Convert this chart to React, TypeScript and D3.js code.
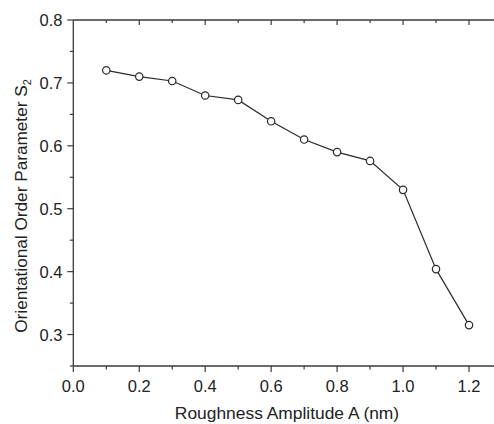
import React from "react";
import * as d3 from "d3";

const amplitudes = [0.1, 0.2, 0.3, 0.4, 0.5, 0.6, 0.7, 0.8, 0.9, 1.0, 1.1, 1.2];
const orderS2 = [0.72, 0.71, 0.703, 0.68, 0.673, 0.639, 0.61, 0.59, 0.576, 0.53, 0.404, 0.315];
const xMajorTicks = [0.0, 0.2, 0.4, 0.6, 0.8, 1.0, 1.2];
const xMinorTicks = [0.1, 0.3, 0.5, 0.7, 0.9, 1.1, 1.3];
const yMajorTicks = [0.3, 0.4, 0.5, 0.6, 0.7, 0.8];
const yMinorTicks = [0.25, 0.35, 0.45, 0.55, 0.65, 0.75];

const W = 494;
const H = 424;
const left = 73.3;
const top = 20;
const bottom = 366;
const font = "'Liberation Sans', Arial, sans-serif";
const axisColor = "#3a3a3a";
const textColor = "#222";

export default function App() {
  const x = d3.scaleLinear().domain([0, 1.2]).range([left, 469]);
  const y = d3.scaleLinear().domain([0.25, 0.8]).range([bottom, top]);
  const right = W;
  const line = d3
    .line<number>()
    .x((_, i) => x(amplitudes[i]))
    .y((d) => y(d));

  return (
    <svg
      width={W}
      height={H}
      style={{ position: "absolute", left: 0, top: 0, display: "block", background: "#fff" }}
    >
      <rect x={0} y={0} width={W} height={H} fill="#fff" />
      <line x1={left} x2={right} y1={top} y2={top} stroke={axisColor} strokeWidth={1.3} />
      <line x1={left} x2={right} y1={bottom} y2={bottom} stroke={axisColor} strokeWidth={1.3} />
      <line x1={left} x2={left} y1={top} y2={bottom} stroke={axisColor} strokeWidth={1.3} />

      {xMajorTicks.map((t) => (
        <line key={"bM" + t} x1={x(t)} x2={x(t)} y1={bottom} y2={bottom + 6} stroke={axisColor} strokeWidth={1.2} />
      ))}
      {xMinorTicks.filter((t) => x(t) < right).map((t) => (
        <line key={"bm" + t} x1={x(t)} x2={x(t)} y1={bottom} y2={bottom + 3.5} stroke={axisColor} strokeWidth={1.2} />
      ))}
      {xMajorTicks.filter((t) => t > 0).map((t) => (
        <line key={"tM" + t} x1={x(t)} x2={x(t)} y1={top} y2={top + 5} stroke={axisColor} strokeWidth={1.2} />
      ))}
      {xMinorTicks.filter((t) => x(t) < right).map((t) => (
        <line key={"tm" + t} x1={x(t)} x2={x(t)} y1={top} y2={top + 3} stroke={axisColor} strokeWidth={1.2} />
      ))}
      {yMajorTicks.map((t) => (
        <line key={"lM" + t} x1={left - 6} x2={left} y1={y(t)} y2={y(t)} stroke={axisColor} strokeWidth={1.2} />
      ))}
      {yMinorTicks.map((t) => (
        <line key={"lm" + t} x1={left - 3.5} x2={left} y1={y(t)} y2={y(t)} stroke={axisColor} strokeWidth={1.2} />
      ))}

      {xMajorTicks.map((t) => (
        <text key={"xl" + t} x={x(t)} y={392} textAnchor="middle" fontFamily={font} fontSize={16.5} fill={textColor}>
          {t.toFixed(1)}
        </text>
      ))}
      {yMajorTicks.map((t) => (
        <text key={"yl" + t} x={62.5} y={y(t) + 6} textAnchor="end" fontFamily={font} fontSize={16.5} fill={textColor}>
          {t.toFixed(1)}
        </text>
      ))}

      <text x={287} y={419} textAnchor="middle" fontFamily={font} fontSize={17.4} fill={textColor}>
        Roughness Amplitude A (nm)
      </text>
      <text
        transform={`translate(26.5, 206) rotate(-90)`}
        textAnchor="middle"
        fontFamily={font}
        fontSize={17.2}
        fill={textColor}
      >
        Orientational Order Parameter S
        <tspan fontSize={11} dy={4}>2</tspan>
      </text>

      <path d={line(orderS2) || ""} fill="none" stroke="#2a2a2a" strokeWidth={1.2} />
      {orderS2.map((v, i) => (
        <circle key={"p" + i} cx={x(amplitudes[i])} cy={y(v)} r={3.7} fill="#fff" stroke="#2a2a2a" strokeWidth={1.2} />
      ))}
    </svg>
  );
}
